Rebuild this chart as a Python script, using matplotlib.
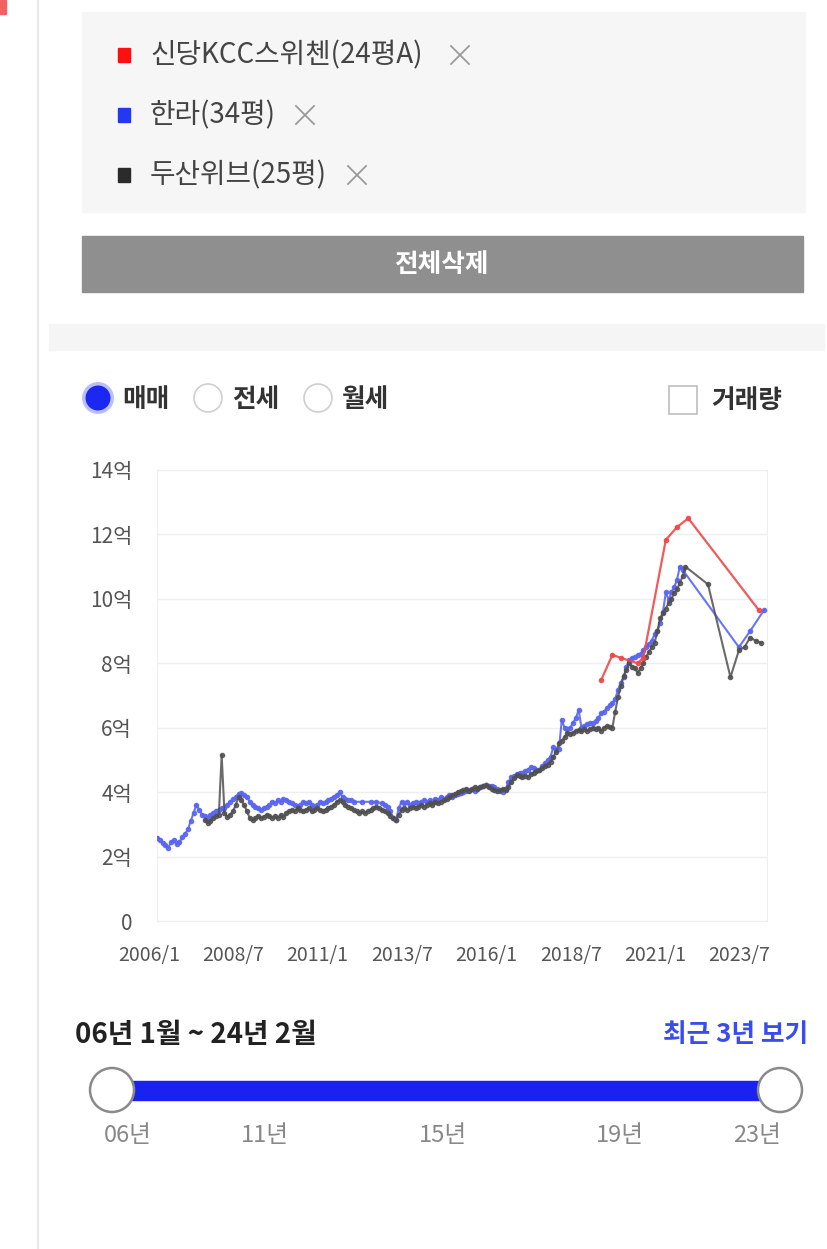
import numpy as np
import pandas as pd
import matplotlib
matplotlib.use("Agg")
import matplotlib.pyplot as plt
import matplotlib.transforms as mtransforms
from matplotlib.patches import Rectangle, Circle

plt.rcParams['font.family'] = ['Noto Sans CJK KR', 'DejaVu Sans']

# 월별 시세 (억), 2006/1 ~ 2024/2, 거래 없는 달은 None
months = pd.date_range('2006-01-01', '2024-02-01', freq='MS')
N = None

blue_vals = [
    2.58, 2.5, 2.42, 2.35, 2.27, 2.45, 2.5, 2.38, 2.45, 2.6, 2.7, 2.85,      # 2006
    3.1, 3.35, 3.6, 3.45, 3.3, 3.25, 3.2, 3.3, 3.35, 3.4, 3.45, 3.5,         # 2007
    3.5, 3.6, 3.7, 3.78, 3.85, 3.95, 3.97, 3.9, 3.85, 3.7, 3.6, 3.55,       # 2008
    3.5, 3.45, 3.5, 3.55, 3.6, 3.7, 3.65, 3.75, 3.7, 3.8, 3.75, 3.7,        # 2009
    3.65, 3.6, 3.55, 3.6, 3.7, 3.65, 3.7, 3.6, 3.55, 3.6, 3.7, 3.65,        # 2010
    3.7, 3.75, 3.8, 3.85, 3.9, 4.0, 3.85, 3.8, 3.75, 3.75, 3.7, N,          # 2011
    N, 3.7, N, N, 3.7, N, 3.7, N, 3.65, 3.6, 3.55, 3.4,                     # 2012
    3.2, 3.13, 3.5, 3.7, 3.65, 3.7, 3.6, 3.65, 3.7, 3.65, 3.7, 3.75,        # 2013
    3.7, 3.75, 3.7, 3.8, 3.75, 3.85, 3.8, 3.85, 3.9, 3.85, 3.9, 3.95,       # 2014
    3.97, 4.0, 4.05, 4.07, 4.1, 4.05, 4.1, 4.15, 4.2, 4.22, 4.2, 4.2,       # 2015
    4.16, 4.1, 4.05, 4.0, 4.1, 4.3, 4.47, 4.5, 4.55, 4.6, 4.6, 4.65,        # 2016
    4.7, 4.78, 4.75, 4.7, 4.69, 4.8, 4.9, 5.0, 5.1, 5.4, 5.3, 5.35,         # 2017
    6.24, 6.0, 5.95, 6.0, 6.15, 6.3, 6.55, 6.0, 6.05, 6.1, 6.15, 6.15,      # 2018
    6.2, 6.3, 6.45, 6.5, 6.6, 6.7, 6.77, 6.9, 7.17, 7.4, 7.57, 7.9,         # 2019
    8.1, 8.15, 8.2, 8.25, 8.3, 8.4, 8.5, 8.6, 8.7, 8.9, 9.0, 9.25,          # 2020
    9.6, 10.2, 9.97, 10.2, 10.37, 10.6, 11.0, 10.9, N, N, N, N,             # 2021
    N, N, N, N, N, N, N, N, N, N, N, N,                                     # 2022
    N, N, N, 8.5, N, N, N, 9.0, N, N, N, N,                                 # 2023
    9.66, N,                                                                # 2024
]

black_vals = [
    N, N, N, N, N, N, N, N, N, N, N, N,                                     # 2006
    N, N, N, N, N, 3.13, 3.04, 3.1, 3.2, 3.25, 3.3, 5.15,                   # 2007
    3.35, 3.23, 3.3, 3.4, 3.6, 3.85, 3.75, 3.6, 3.4, 3.2, 3.13, 3.2,        # 2008
    3.25, 3.2, 3.23, 3.3, 3.25, 3.2, 3.25, 3.2, 3.3, 3.23, 3.35, 3.4,       # 2009
    3.45, 3.4, 3.5, 3.45, 3.4, 3.45, 3.5, 3.4, 3.45, 3.5, 3.45, 3.4,        # 2010
    3.45, 3.5, 3.55, 3.6, 3.7, 3.75, 3.7, 3.6, 3.55, 3.5, 3.45, 3.4,        # 2011
    3.35, 3.4, 3.35, 3.4, 3.45, 3.5, 3.55, 3.5, 3.45, 3.4, 3.35, 3.25,      # 2012
    3.2, 3.13, 3.3, 3.45, 3.5, 3.45, 3.5, 3.55, 3.5, 3.55, 3.6, 3.55,       # 2013
    3.6, 3.65, 3.6, 3.7, 3.65, 3.7, 3.75, 3.8, 3.85, 3.9, 3.95, 4.0,        # 2014
    4.05, 4.07, 4.1, 4.05, 4.1, 4.15, 4.1, 4.15, 4.2, 4.22, 4.15, 4.1,      # 2015
    4.07, 4.05, 4.07, 4.1, 4.07, 4.15, 4.3, 4.45, 4.53, 4.5, 4.47, 4.5,     # 2016
    4.47, 4.55, 4.6, 4.65, 4.69, 4.75, 4.8, 4.85, 4.94, 5.1, 5.25, 5.53,    # 2017
    5.6, 5.7, 5.84, 5.8, 5.85, 5.9, 5.93, 5.9, 5.95, 5.9, 5.95, 6.0,        # 2018
    5.95, 6.0, 5.9, 6.0, 6.05, 6.03, 6.0, 6.5, 6.95, 7.3, 7.6, 7.8,         # 2019
    8.0, 7.9, 7.85, 7.7, 7.85, 8.0, 8.2, 8.35, 8.5, 8.63, 9.0, 9.4,         # 2020
    9.56, 9.7, 9.87, 10.0, 10.18, 10.3, 10.5, 10.7, 11.0, N, N, N,          # 2021
    N, N, N, N, 10.45, N, N, N, N, N, N, N,                                 # 2022
    7.57, N, N, 8.4, N, 8.5, N, 8.8, N, 8.7, N, 8.63,                       # 2023
    N, N,                                                                   # 2024
]

red_dates = ['2019-03', '2019-07', '2019-10', '2020-04', '2020-06',
             '2021-02', '2021-06', '2021-10', '2023-11']
red_vals = [7.48, 8.26, 8.17, 8.0, 8.17, 11.83, 12.23, 12.5, 9.66]

legend_names = ['신당KCC스위첸(24평A)', '한라(34평)', '두산위브(25평)']
legend_colors = ['#ff1010', '#2438f2', '#2b2b2b']
trade_types = ['매매', '전세', '월세']
y_ticks = [0, 2, 4, 6, 8, 10, 12, 14]
slider_labels = ['06년', '11년', '15년', '19년', '23년']

W, H = 827, 1249
fig = plt.figure(figsize=(W / 100, H / 100), dpi=100)
bg = fig.add_axes([0, 0, 1, 1])
bg.set_xlim(0, W)
bg.set_ylim(H, 0)
bg.axis('off')

# 왼쪽 경계선, 구석 표시
bg.plot([38, 38], [0, H], color='#e8e8e8', lw=1.5)
bg.add_patch(Rectangle((0, 0), 6, 14, color='#f26060'))

# 선택 단지 박스
bg.add_patch(Rectangle((82, 12), 723, 200, color='#f6f6f6'))
x_pos = [460, 305, 357]
for i, (name, col) in enumerate(zip(legend_names, legend_colors)):
    cy = 55 + i * 60
    bg.add_patch(Rectangle((118, cy - 7), 12, 14, color=col))
    bg.text(150, cy, name, fontsize=20, color='#444', va='center', ha='left')
    cx = x_pos[i]
    bg.plot([cx - 9, cx + 9], [cy - 9, cy + 9], color='#9a9a9a', lw=1.3)
    bg.plot([cx - 9, cx + 9], [cy + 9, cy - 9], color='#9a9a9a', lw=1.3)

# 전체삭제 버튼
bg.add_patch(Rectangle((82, 236), 721, 56, color='#8f8f8f'))
bg.text(441, 264, '전체삭제', fontsize=18.5, color='white', fontweight='bold',
        ha='center', va='center')

bg.add_patch(Rectangle((49, 324), 775, 26, color='#f5f5f5'))

# 거래유형 라디오
radio_x = [98, 208, 318]
for i, (lab, rx) in enumerate(zip(trade_types, radio_x)):
    if i == 0:
        bg.add_patch(Circle((rx, 398), 16, color='#2030f0', alpha=0.3, lw=0))
        bg.add_patch(Circle((rx, 398), 12.5, color='#1a28f2', lw=0))
    else:
        bg.add_patch(Circle((rx, 398), 14, fc='white', ec='#cfcfcf', lw=1.2))
    bg.text(rx + 24, 399, lab, fontsize=18.5, color='#333', fontweight='bold',
            ha='left', va='center')
bg.add_patch(Rectangle((669, 386), 28, 28, fc='white', ec='#bdbdbd', lw=1.2))
bg.text(711, 400, '거래량', fontsize=18.5, color='#333', fontweight='bold',
        ha='left', va='center')

# 시세 차트
ax = fig.add_axes([157 / W, 1 - 921 / H, 610 / W, 451 / H])
x = np.arange(len(months))
b = pd.Series(blue_vals, dtype=float)
k = pd.Series(black_vals, dtype=float)
ax.plot(x[b.notna()], b.dropna(), color='#5a66f2', lw=1.5, marker='o', ms=3,
        alpha=0.9, zorder=3)
ax.plot(x[k.notna()], k.dropna(), color='#505050', lw=1.5, marker='o', ms=3,
        alpha=0.85, zorder=4)
red_x = months.get_indexer(pd.to_datetime(red_dates))
ax.plot(red_x, red_vals, color='#f04848', lw=1.6, marker='o', ms=3, alpha=0.9, zorder=5)

ax.set_xlim(0, len(months) - 1)
ax.set_ylim(0, 14)
ax.set_yticks(y_ticks)
ax.set_yticklabels(['0'] + [f'{v}억' for v in y_ticks[1:]])
xt = x[::30]
ax.set_xticks(xt)
ax.set_xticklabels([f'{d.year}/{d.month}' for d in months[xt]])
ax.tick_params(length=0, colors='#555')
ax.tick_params(axis='y', labelsize=15, pad=18)
ax.tick_params(axis='x', labelsize=14, pad=17)
shift = mtransforms.ScaledTranslation(-8 / 100, 0, fig.dpi_scale_trans)
for t in ax.get_xticklabels():
    t.set_transform(t.get_transform() + shift)
ax.grid(axis='y', color='#eeeeee', lw=1)
for s in ax.spines.values():
    s.set_color('#eeeeee')
ax.set_axisbelow(True)

# 기간 슬라이더
bg.text(75, 1035, '06년 1월 ~ 24년 2월', fontsize=20, color='#222',
        fontweight='bold', ha='left', va='center')
bg.text(808, 1035, '최근 3년 보기', fontsize=18.5, color='#3a4cf0',
        fontweight='bold', ha='right', va='center')
bg.add_patch(Rectangle((112, 1081), 668, 19, color='#1a22f2'))
for cx in [112, 780]:
    bg.add_patch(Circle((cx, 1090), 22, fc='white', ec='#8a8a8a', lw=1.8))
for lab, lx in zip(slider_labels, [128, 265, 443, 620, 757]):
    bg.text(lx, 1135, lab, fontsize=17, color='#888', ha='center', va='center')

fig.savefig('out.png', dpi=100)
